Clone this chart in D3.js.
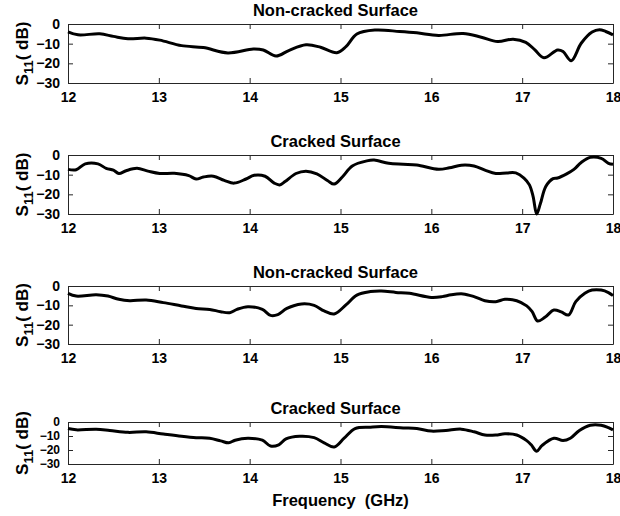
<!DOCTYPE html>
<html>
<head>
<meta charset="utf-8">
<script src="https://cdn.jsdelivr.net/npm/d3@7"></script>
<style>
  body { margin: 0; background: #fff; }
  svg text { font-family: "Liberation Sans", Arial, Helvetica, sans-serif; font-weight: bold; fill: #000; }
</style>
</head>
<body>
<div id="chart"></div>
<script>
const W = 620, H = 516;
const PLOT = { left: 68, right: 613 };

const xTicks = [12, 13, 14, 15, 16, 17, 18];
const yTicks = [0, -10, -20, -30];
const titles = ['Non-cracked Surface', 'Cracked Surface', 'Non-cracked Surface', 'Cracked Surface'];

// panel 1
const freq1 = [12.0, 12.11, 12.35, 12.5, 12.66, 12.86, 13.01, 13.25, 13.49, 13.76, 14.04, 14.15, 14.29, 14.43, 14.62, 14.78, 14.96, 15.06, 15.18, 15.38, 15.65, 15.84, 16.08, 16.35, 16.55, 16.73, 16.9, 17.04, 17.14, 17.24, 17.39, 17.45, 17.54, 17.65, 17.77, 17.85, 17.92, 18.0];
const s11_1 = [-4, -5.5, -5, -6.3, -7.5, -7.2, -8.2, -11, -12, -14.7, -12.7, -13.2, -16.3, -13.5, -10.6, -11.8, -14.6, -11.5, -5.1, -3.1, -3.8, -4.5, -5.8, -4.8, -6.7, -8.9, -7.7, -9.3, -13.2, -17.2, -13.2, -14, -18.7, -9.8, -4.1, -2.9, -3.8, -5.5];

// panel 2
const freq2 = [12.0, 12.09, 12.19, 12.33, 12.42, 12.5, 12.56, 12.64, 12.76, 12.88, 13.01, 13.17, 13.33, 13.41, 13.49, 13.6, 13.72, 13.83, 13.96, 14.05, 14.17, 14.27, 14.33, 14.39, 14.51, 14.62, 14.74, 14.86, 14.93, 15.02, 15.13, 15.29, 15.37, 15.53, 15.69, 15.84, 16.08, 16.2, 16.33, 16.47, 16.59, 16.71, 16.83, 16.93, 17.02, 17.08, 17.12, 17.16, 17.2, 17.26, 17.34, 17.39, 17.49, 17.57, 17.65, 17.75, 17.87, 17.95, 18.0];
const s11_2 = [-7.3, -7.5, -4.5, -4.5, -6.8, -7.7, -9.4, -8, -6.8, -8.2, -9.4, -9.3, -10.5, -12.2, -11.2, -10.8, -12.9, -14.3, -12.2, -10.3, -10.8, -14.3, -15.2, -13.5, -9.4, -8.2, -9.6, -13.1, -14.8, -11.2, -5.6, -3, -2.6, -4.2, -4.7, -5.1, -7.3, -6.5, -5.2, -5.6, -7.7, -9.4, -9.1, -9.1, -11.7, -15.2, -21, -30, -24.8, -16, -12, -11.7, -9.6, -7.3, -3.8, -1.2, -1.7, -4.2, -4.7];

// panel 3
const freq3 = [12.0, 12.09, 12.31, 12.44, 12.56, 12.68, 12.86, 13.05, 13.25, 13.41, 13.56, 13.68, 13.78, 13.86, 13.98, 14.14, 14.23, 14.31, 14.41, 14.57, 14.71, 14.82, 14.93, 15.06, 15.18, 15.33, 15.45, 15.61, 15.76, 16.0, 16.12, 16.22, 16.35, 16.47, 16.59, 16.71, 16.81, 16.94, 17.05, 17.11, 17.17, 17.25, 17.35, 17.43, 17.51, 17.59, 17.69, 17.77, 17.87, 17.95, 18.0];
const s11_3 = [-3.8, -5.2, -4.5, -5.2, -6.9, -7.6, -7.2, -8.6, -10.3, -11.6, -12.1, -13.3, -13.8, -12.1, -10.7, -12.1, -15.2, -14.8, -11.6, -9.3, -10, -12.9, -14.5, -9.8, -4.7, -2.9, -2.6, -3.3, -3.8, -5.9, -5.5, -4.5, -4.1, -5.5, -7.6, -8.1, -6.9, -7.6, -10.3, -13.3, -18.1, -16.2, -12.4, -13.4, -15, -8.1, -3.8, -2.1, -2.1, -3.4, -5];

// panel 4
const freq4 = [12.0, 12.09, 12.31, 12.46, 12.66, 12.86, 13.05, 13.25, 13.41, 13.56, 13.68, 13.77, 13.84, 13.98, 14.14, 14.23, 14.32, 14.4, 14.55, 14.71, 14.82, 14.93, 15.04, 15.16, 15.33, 15.45, 15.69, 15.84, 16.0, 16.16, 16.33, 16.47, 16.59, 16.71, 16.81, 16.94, 17.05, 17.1, 17.16, 17.22, 17.35, 17.45, 17.53, 17.63, 17.75, 17.87, 17.95, 18.0];
const s11_4 = [-4.7, -5.6, -5.1, -6, -7.4, -7, -8.6, -10.2, -11.2, -11.6, -13.5, -14.9, -13, -11.6, -13, -17.2, -16.3, -12.1, -10.2, -11.2, -14.9, -17.9, -11.6, -4.7, -3.7, -3.3, -4.2, -4.7, -6.5, -6, -5.1, -7, -9.3, -9.3, -8.4, -9.3, -13.3, -16.3, -20.9, -16.7, -11.6, -13.3, -11.6, -6, -2.3, -2.3, -4, -5.6];

const panels = [
  { top: 24, bottom: 83, freq: freq1, s11: s11_1 },
  { top: 155, bottom: 214, freq: freq2, s11: s11_2 },
  { top: 286, bottom: 344, freq: freq3, s11: s11_3 },
  { top: 422, bottom: 464, freq: freq4, s11: s11_4 }
];

const svg = d3.select('#chart').append('svg')
  .attr('width', W)
  .attr('height', H);

const x = d3.scaleLinear().domain([12, 18]).range([PLOT.left, PLOT.right]);

panels.forEach((p, i) => {
  const y = d3.scaleLinear().domain([-30, 0]).range([p.bottom, p.top]);
  const g = svg.append('g');
  // last panel is short, so its y labels need a smaller size to fit
  const yFont = (p.bottom - p.top) < 50 ? 12 : 14;

  // axes (MATLAB style box with inward ticks)
  const styleAxis = sel => {
    sel.selectAll('path.domain').attr('stroke', '#262626').attr('stroke-width', 1);
    sel.selectAll('.tick line').attr('stroke', '#262626');
  };

  g.append('g')
    .attr('transform', `translate(0, ${p.bottom})`)
    .call(d3.axisBottom(x).tickValues(xTicks).tickFormat(d3.format('d')).tickSizeInner(-5).tickSizeOuter(0).tickPadding(9))
    .call(styleAxis)
    .call(s => s.selectAll('text').attr('font-size', 14).attr('font-family', null).attr('fill', '#000'));

  g.append('g')
    .attr('transform', `translate(0, ${p.top})`)
    .call(d3.axisTop(x).tickValues(xTicks).tickFormat('').tickSizeInner(-5).tickSizeOuter(0))
    .call(styleAxis);

  g.append('g')
    .attr('transform', `translate(${PLOT.left}, 0)`)
    .call(d3.axisLeft(y).tickValues(yTicks).tickFormat(d3.format('d')).tickSizeInner(-5).tickSizeOuter(0).tickPadding(8))
    .call(styleAxis)
    .call(s => s.selectAll('text').attr('font-size', yFont).attr('font-family', null).attr('fill', '#000'));

  g.append('g')
    .attr('transform', `translate(${PLOT.right}, 0)`)
    .call(d3.axisRight(y).tickValues(yTicks).tickFormat('').tickSizeInner(-5).tickSizeOuter(0))
    .call(styleAxis);

  // the trace
  const line = d3.line()
    .x((d, k) => x(p.freq[k]))
    .y(d => y(d))
    .curve(d3.curveCatmullRom);

  g.append('path')
    .datum(p.s11)
    .attr('fill', 'none')
    .attr('stroke', '#000')
    .attr('stroke-width', 3)
    .attr('stroke-linejoin', 'round')
    .attr('d', line);

  // title
  g.append('text')
    .attr('x', (PLOT.left + PLOT.right) / 2 - 5)
    .attr('y', p.top - 8)
    .attr('text-anchor', 'middle')
    .attr('font-size', 16.5)
    .text(titles[i]);

  // y label
  const yl = g.append('text')
    .attr('transform', `translate(28, ${(p.top + p.bottom) / 2}) rotate(-90)`)
    .attr('text-anchor', 'middle')
    .attr('font-size', 17);
  yl.append('tspan').text('S');
  yl.append('tspan').attr('font-size', 13).attr('dy', 5).text('11');
  yl.append('tspan').attr('dy', -5).text('( dB)');
});

svg.append('text')
  .attr('x', (PLOT.left + PLOT.right) / 2)
  .attr('y', 506)
  .attr('text-anchor', 'middle')
  .attr('font-size', 16.5)
  .attr('xml:space', 'preserve')
  .style('white-space', 'pre')
  .text('Frequency  (GHz)');
</script>
</body>
</html>
